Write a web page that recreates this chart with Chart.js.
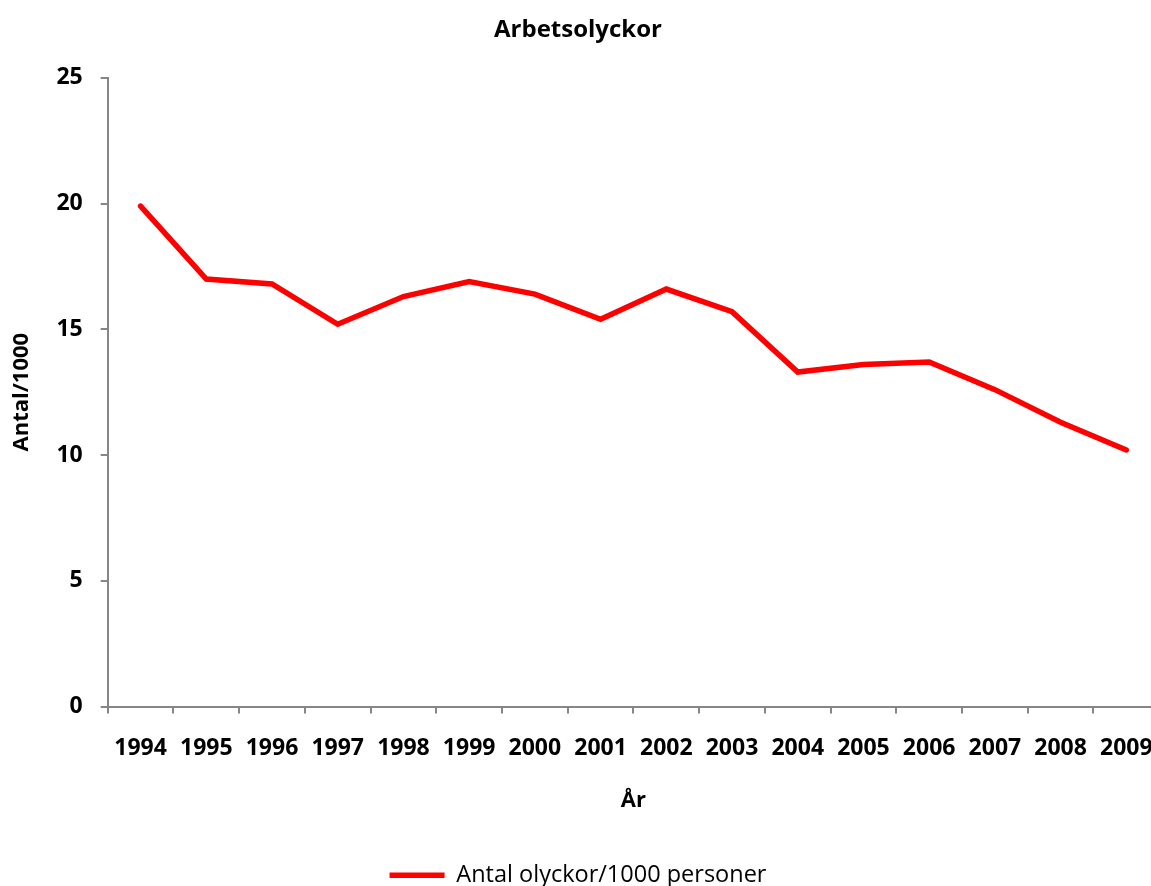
<!DOCTYPE html>
<html>
<head>
<meta charset="utf-8">
<script src="https://cdn.jsdelivr.net/npm/chart.js@4/dist/chart.umd.min.js"></script>
<style>
html,body{margin:0;padding:0;background:#fff;overflow:hidden;}
#wrap{width:1174px;height:897px;}
</style>
</head>
<body>
<div id="wrap"><canvas id="c" width="1174" height="897"></canvas></div>
<script>
const years = ["1994","1995","1996","1997","1998","1999","2000","2001","2002","2003","2004","2005","2006","2007","2008","2009"];
const accidentsPer1000 = [19.9,17.0,16.8,15.2,16.3,16.9,16.4,15.4,16.6,15.7,13.3,13.6,13.7,12.6,11.3,10.2];
const seriesName = "Antal olyckor/1000 personer";
const chartTitle = "Arbetsolyckor";
const xTitle = "År";
const yTitle = "Antal/1000";

const FONT = "'Open Sans', 'DejaVu Sans', sans-serif";
const axisGray = "#868686";

new Chart(document.getElementById('c'), {
  type: 'line',
  data: {
    labels: years,
    datasets: [{
      label: seriesName,
      data: accidentsPer1000,
      borderColor: '#ff0000',
      backgroundColor: '#ff0000',
      borderWidth: 5.5,
      borderCapStyle: 'round',
      borderJoinStyle: 'miter',
      pointRadius: 0,
      pointHoverRadius: 0,
      pointStyle: 'line',
      tension: 0,
      fill: false
    }]
  },
  options: {
    responsive: false,
    animation: false,
    layout: { padding: { left: -6, right: 12, top: 10, bottom: 0 } },
    plugins: {
      title: {
        display: true,
        text: chartTitle,
        color: '#000',
        font: { family: FONT, size: 24, weight: 'bold' },
        padding: { top: 6, bottom: 33 }
      },
      legend: {
        display: true,
        position: 'bottom',
        labels: {
          color: '#000',
          font: { family: FONT, size: 23.5 },
          usePointStyle: true,
          pointStyle: 'line',
          pointStyleWidth: 55,
          boxHeight: 5,
          padding: 0
        }
      },
      tooltip: { enabled: false }
    },
    scales: {
      x: {
        type: 'category',
        offset: true,
        grid: {
          display: true,
          drawOnChartArea: false,
          drawTicks: true,
          tickLength: 7,
          color: axisGray,
          lineWidth: 2,
          offset: true
        },
        border: { display: true, color: axisGray, width: 2 },
        ticks: {
          color: '#000',
          font: { family: FONT, size: 23, weight: 'bold' },
          padding: 21,
          maxRotation: 0,
          autoSkip: false
        },
        title: {
          display: true,
          text: xTitle,
          color: '#000',
          font: { family: FONT, size: 22, weight: 'bold' },
          padding: { top: 4, bottom: 50 }
        }
      },
      y: {
        min: 0,
        max: 25,
        grid: {
          display: true,
          drawOnChartArea: false,
          drawTicks: true,
          tickLength: 7,
          color: axisGray,
          lineWidth: 2
        },
        border: { display: true, color: axisGray, width: 2 },
        ticks: {
          stepSize: 5,
          color: '#000',
          font: { family: FONT, size: 23, weight: 'bold' },
          padding: 18
        },
        title: {
          display: true,
          text: yTitle,
          color: '#000',
          font: { family: FONT, size: 22, weight: 'bold' },
          padding: { top: 15, bottom: 3 }
        }
      }
    }
  }
});
</script>
</body>
</html>
